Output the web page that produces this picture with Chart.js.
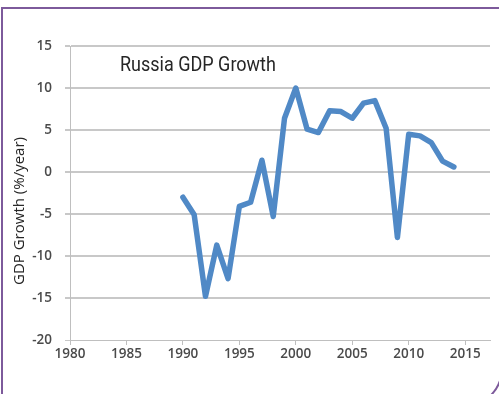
<!DOCTYPE html>
<html>
<head>
<meta charset="utf-8">
<script src="https://cdn.jsdelivr.net/npm/chart.js@4.4.0/dist/chart.umd.min.js"></script>
<style>
    html, body { margin: 0; padding: 0; background: #fff; }
    #wrap { position: relative; width: 499px; height: 394px; overflow: hidden; }
    #frame {
        position: absolute; left: 1px; top: 7px; width: 502px; height: 401px;
        border: 2px solid #7d5a9b; border-radius: 0 0 40px 0; box-sizing: border-box;
    }
    #chartTitle {
        position: absolute; left: 120px; top: 52px;
        font: 20px Roboto, sans-serif; color: #262626; white-space: nowrap;
        transform: scaleX(0.9); transform-origin: left top;
    }
    #yTitle {
        position: absolute; left: 18px; top: 211px; white-space: nowrap;
        font: 15px 'Open Sans', sans-serif; color: #262626;
        transform: translate(-50%, -50%) rotate(-90deg);
    }
    #chartBox { position: absolute; left: 0; top: 0; width: 499px; height: 394px; }
</style>
</head>
<body>
<div id="wrap">
    <div id="frame"></div>
    <div id="chartBox"><canvas id="gdpChart"></canvas></div>
    <div id="chartTitle">Russia GDP Growth</div>
    <div id="yTitle">GDP Growth (%/year)</div>
</div>
<script>
// Crescimento anual do PIB da Rússia (%)
const anos = [1990, 1991, 1992, 1993, 1994, 1995, 1996, 1997, 1998, 1999, 2000, 2001,
              2002, 2003, 2004, 2005, 2006, 2007, 2008, 2009, 2010, 2011, 2012, 2013, 2014];
const crescimento = [-3.0, -5.1, -14.8, -8.7, -12.7, -4.1, -3.6, 1.4, -5.3, 6.4, 10.0, 5.1,
                     4.7, 7.3, 7.2, 6.4, 8.2, 8.5, 5.2, -7.8, 4.5, 4.3, 3.5, 1.3, 0.6];
const xTicks = [1980, 1985, 1990, 1995, 2000, 2005, 2010, 2015];
const yTicks = [-20, -15, -10, -5, 0, 5, 10, 15];

const tickFont = { family: "'Open Sans', sans-serif", size: 13.5, weight: '600' };

const ctx = document.getElementById('gdpChart').getContext('2d');
new Chart(ctx, {
    type: 'line',
    data: {
        datasets: [{
            data: anos.map((ano, i) => ({ x: ano, y: crescimento[i] })),
            borderColor: '#5089c6',
            borderWidth: 5.5,
            borderJoinStyle: 'round',
            borderCapStyle: 'round',
            pointRadius: 0,
            tension: 0,
            fill: false
        }]
    },
    options: {
        responsive: true,
        maintainAspectRatio: false,
        animation: false,
        layout: { padding: { top: 46, right: 9, bottom: 24, left: 0 } },
        plugins: { legend: { display: false }, tooltip: { enabled: false } },
        scales: {
            x: {
                type: 'linear',
                min: 1980,
                max: 2017.2,
                afterBuildTicks: scale => { scale.ticks = xTicks.map(v => ({ value: v })); },
                afterFit: scale => { scale.height = 30; },
                grid: { drawOnChartArea: false, drawTicks: true, tickLength: 5, color: '#bfbfbf' },
                border: { color: '#bfbfbf', width: 1 },
                ticks: {
                    color: '#4a4a4a', font: tickFont, padding: 1, maxRotation: 0,
                    callback: value => String(value)
                }
            },
            y: {
                min: -20,
                max: 15,
                afterBuildTicks: scale => { scale.ticks = yTicks.map(v => ({ value: v })); },
                afterFit: scale => { scale.width = 70; },
                grid: {
                    color: '#c8c8c8',
                    lineWidth: c => (c.tick && c.tick.value === -20 ? 1 : 2),
                    tickLength: 5
                },
                border: { color: '#bfbfbf', width: 1 },
                ticks: { color: '#4a4a4a', font: tickFont, padding: 13 }
            }
        }
    }
});
</script>
</body>
</html>
